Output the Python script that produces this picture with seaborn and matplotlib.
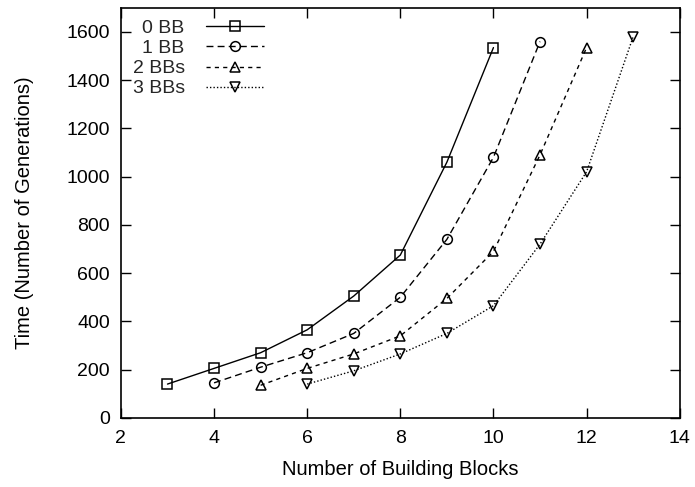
import matplotlib
matplotlib.use("Agg")
import matplotlib.pyplot as plt
import seaborn as sns
import pandas as pd

sns.set_theme(style="ticks")
plt.rcParams['font.family'] = ['Liberation Sans', 'DejaVu Sans']

series_names = ["0 BB", "1 BB", "2 BBs", "3 BBs"]
x_0bb = [3, 4, 5, 6, 7, 8, 9, 10]
y_0bb = [140, 205, 270, 365, 505, 675, 1060, 1535]
x_1bb = [4, 5, 6, 7, 8, 9, 10, 11]
y_1bb = [145, 210, 270, 350, 500, 740, 1080, 1560]
x_2bb = [5, 6, 7, 8, 9, 10, 11, 12]
y_2bb = [135, 205, 265, 340, 495, 690, 1090, 1535]
x_3bb = [6, 7, 8, 9, 10, 11, 12, 13]
y_3bb = [140, 195, 265, 350, 465, 720, 1020, 1580]
x_ticks = [2, 4, 6, 8, 10, 12, 14]
y_ticks = [0, 200, 400, 600, 800, 1000, 1200, 1400, 1600]

frames = []
for name, xs, ys in zip(series_names, [x_0bb, x_1bb, x_2bb, x_3bb], [y_0bb, y_1bb, y_2bb, y_3bb]):
    frames.append(pd.DataFrame({"x": xs, "y": ys, "series": name}))
df = pd.concat(frames, ignore_index=True)

fig = plt.figure(figsize=(6.95, 4.87), dpi=100)
ax = fig.add_axes([0.174, 0.142, 0.804, 0.842])

markers = {"0 BB": "s", "1 BB": "o", "2 BBs": "^", "3 BBs": "v"}
dashes = {"0 BB": "", "1 BB": (5, 3), "2 BBs": (3, 3), "3 BBs": (1, 1.5)}
palette = {n: "black" for n in series_names}

sns.lineplot(data=df, x="x", y="y", hue="series", style="series",
             markers=markers, dashes=dashes, palette=palette,
             hue_order=series_names, style_order=series_names,
             markersize=7, markerfacecolor="none", markeredgecolor="black",
             markeredgewidth=1.1, linewidth=1.0, ax=ax, legend=True)

for line in ax.lines:
    line.set_markerfacecolor("none")
    line.set_markeredgecolor("black")

ax.set_xlim(2, 14)
ax.set_ylim(0, 1700)
ax.set_xticks(x_ticks)
ax.set_yticks(y_ticks)
ax.tick_params(direction="in", length=7, width=1, top=True, right=True,
               labelsize=14, color="black", labelcolor="black")
ax.tick_params(axis="x", pad=9)
ax.tick_params(axis="y", pad=8)
for s in ax.spines.values():
    s.set_visible(True)
    s.set_color("black")
    s.set_linewidth(1.2)
ax.set_xlabel("Number of Building Blocks", fontsize=14.5, labelpad=9, color="black")
ax.set_ylabel("Time (Number of Generations)", fontsize=14.5, labelpad=23, color="black")

handles, labels = ax.get_legend_handles_labels()
for h in handles:
    h.set_markerfacecolor("none")
    h.set_markeredgecolor("black")
leg = ax.legend(handles, labels, loc="upper left", markerfirst=False,
                frameon=False, fontsize=14, handlelength=3.0,
                labelspacing=0.13, borderaxespad=0.2, handletextpad=1.1,
                bbox_to_anchor=(0.0, 1.0))

fig.savefig("out.png", dpi=100)
